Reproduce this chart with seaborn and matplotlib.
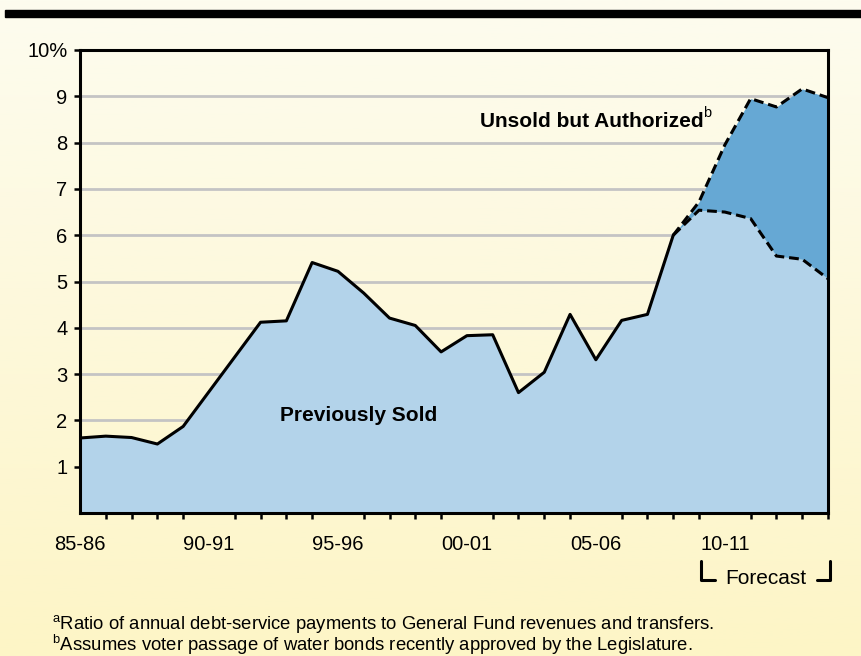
import numpy as np
import pandas as pd
import matplotlib
matplotlib.use('Agg')
import matplotlib.pyplot as plt
import seaborn as sns
from matplotlib.patches import Rectangle
from matplotlib.lines import Line2D
from matplotlib.colors import LinearSegmentedColormap

# Debt-service ratio, 1985-86 through 2014-15
years = list(range(1985, 2015))
year_labels = [f"{y % 100:02d}-{(y + 1) % 100:02d}" for y in years]

previously_sold = [1.62, 1.66, 1.63, 1.49, 1.87, 2.62, 3.37, 4.12, 4.15, 5.41,
                   5.22, 4.75, 4.21, 4.05, 3.48, 3.83, 3.85, 2.60, 3.04, 4.29,
                   3.31, 4.16, 4.29, 6.00, 6.54, 6.50, 6.36, 5.55, 5.48, 5.06]
# total including unsold but authorized bonds (forecast years only)
forecast_start = 2008
total_with_unsold = [6.00, 6.72, 7.95, 8.95, 8.77, 9.16, 8.97]

tick_years = [1985, 1990, 1995, 2000, 2005, 2010]
y_ticks = [1, 2, 3, 4, 5, 6, 7, 8, 9, 10]
y_tick_labels = ["1", "2", "3", "4", "5", "6", "7", "8", "9", "10%"]

light_blue = "#b3d3ea"
dark_blue = "#66a8d4"

sns.set_theme(style="white")
plt.rcParams['font.family'] = ['Liberation Sans', 'DejaVu Sans']
plt.rcParams.update({'text.color': 'black', 'xtick.color': 'black',
                     'ytick.color': 'black', 'axes.labelcolor': 'black'})

df = pd.DataFrame({"year": years, "sold": previously_sold})
fc = pd.DataFrame({"year": list(range(forecast_start, forecast_start + len(total_with_unsold))),
                   "total": total_with_unsold})
fc["sold"] = df.set_index("year").loc[fc["year"], "sold"].values

fig = plt.figure(figsize=(8.61, 6.56), dpi=100)

# yellow gradient background
bg = fig.add_axes([0, 0, 1, 1], zorder=-10)
grad = np.linspace(0, 1, 256).reshape(-1, 1)
cmap = LinearSegmentedColormap.from_list("bg", ["#fdfcef", "#fdf5c6"])
bg.imshow(grad, aspect="auto", cmap=cmap, extent=[0, 1, 0, 1], origin="upper")
bg.set_axis_off()

# black band at top
fig.patches.append(Rectangle((5 / 861, 1 - 17 / 656), 1, 7 / 656, transform=fig.transFigure,
                             color="black", zorder=5))

ax = fig.add_axes([80 / 861, 1 - 513 / 656, (828 - 80) / 861, (513 - 50) / 656])
ax.patch.set_alpha(0)

for yv in y_ticks:
    ax.axhline(yv, color="#c4c4c4", lw=2, zorder=0)

ax.fill_between(df["year"], 0, df["sold"], color=light_blue, lw=0, zorder=1)
ax.fill_between(fc["year"], fc["sold"], fc["total"], color=dark_blue, lw=0, zorder=1)

hist = df[df["year"] <= forecast_start]
fut = df[df["year"] >= forecast_start]
sns.lineplot(data=hist, x="year", y="sold", ax=ax, color="black", lw=2.2, zorder=3)
sns.lineplot(data=fut, x="year", y="sold", ax=ax, color="black", lw=2.2,
             linestyle=(0, (3.2, 1.6)), zorder=3)
sns.lineplot(data=fc, x="year", y="total", ax=ax, color="black", lw=2.2,
             linestyle=(0, (3.2, 1.6)), zorder=3)

ax.set_xlim(years[0], years[-1])
ax.set_ylim(0, 10)
ax.set_xlabel("")
ax.set_ylabel("")

ax.set_xticks(tick_years)
ax.set_xticklabels([year_labels[years.index(y)] for y in tick_years], fontsize=14.5)
ax.set_xticks(years, minor=True)
ax.tick_params(axis="x", which="major", direction="out", length=11, width=2.2, pad=5)
ax.tick_params(axis="x", which="minor", direction="out", length=4, width=1.8, bottom=True)
ax.set_yticks(y_ticks)
ax.set_yticklabels(y_tick_labels, fontsize=14.5)
ax.tick_params(axis="y", direction="out", length=4, width=1.8, left=True, pad=5)

for s in ax.spines.values():
    s.set_color("black")
    s.set_linewidth(2.2)
    s.set_zorder(4)

ax.text(1992.75, 2.1, "Previously Sold", fontsize=15, fontweight="bold", ha="left", va="center")
unsold = ax.text(2000.5, 8.45, "Unsold but Authorized", fontsize=15, fontweight="bold",
                 ha="left", va="center")
ax.annotate("b", xy=(1, 0.6), xycoords=unsold, xytext=(0, 0), textcoords="offset points",
            fontsize=10.5, ha="left", va="bottom")

# Forecast bracket
y_br = 1 - 580 / 656
y_top = 1 - 561 / 656
x0, x1 = 701 / 861, 830 / 861
fig.lines.append(Line2D([x0, x0, 715 / 861], [y_top, y_br, y_br], transform=fig.transFigure,
                        color="black", lw=2.2))
fig.lines.append(Line2D([817 / 861, x1, x1], [y_br, y_br, y_top], transform=fig.transFigure,
                        color="black", lw=2.2))
fig.text(766 / 861, 1 - 579 / 656, "Forecast", fontsize=15, ha="center", va="center")

fig.text(52 / 861, 1 - 624 / 656, "$^{\\mathregular{a}}$Ratio of annual debt-service payments to General Fund revenues and transfers.",
         fontsize=13.3, ha="left", va="center")
fig.text(52 / 861, 1 - 645 / 656, "$^{\\mathregular{b}}$Assumes voter passage of water bonds recently approved by the Legislature.",
         fontsize=13.3, ha="left", va="center")

fig.savefig("out.png", dpi=100)
